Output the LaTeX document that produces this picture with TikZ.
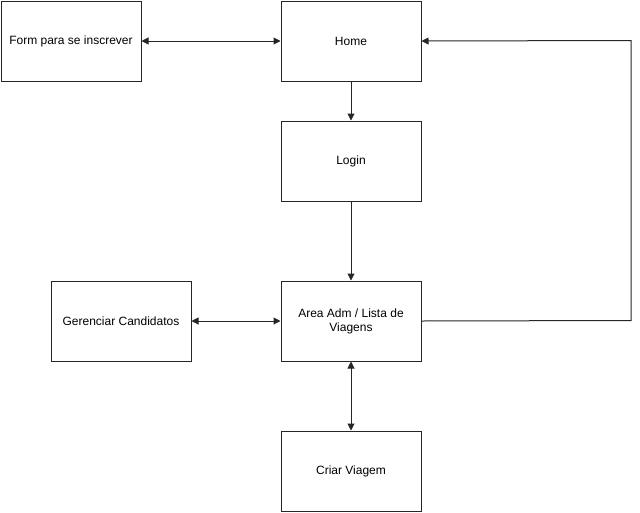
\documentclass[tikz,border=0pt]{standalone}
\usepackage{fontspec}
\setmainfont{Liberation Sans}
\usetikzlibrary{arrows.meta}
\begin{document}
\begin{tikzpicture}[x=1pt,y=-1pt,
  box/.style={draw=black!85,line width=1pt,minimum width=140pt,minimum height=80pt,inner sep=0pt,align=center,font=\fontsize{12}{14}\selectfont,anchor=north west},
  conn/.style={line width=1pt,black!85,-{Triangle[width=7pt,length=7pt]}},
  biconn/.style={line width=1pt,black!85,{Triangle[width=7pt,length=7pt]}-{Triangle[width=7pt,length=7pt]}}]
\useasboundingbox (0,0) rectangle (640,512);
\node[box] (form) at (0.5,0.5) {Form para se inscrever};
\node[box] (home) at (280.5,0.5) {Home};
\node[box] (login) at (280.5,120.5) {Login};
\node[box] (adm) at (280.5,280.5) {Area Adm / Lista de\\Viagens};
\node[box] (ger) at (50.5,280.5) {Gerenciar Candidatos};
\node[box] (criar) at (280.5,430.5) {Criar Viagem};
\coordinate (c1) at (631,320.5);
\coordinate (c2) at (631,40.5);
\draw[biconn] (form.east) -- (home.west);
\draw[conn] (home.south) -- (login.north);
\draw[conn] (login.south) -- (adm.north);
\draw[biconn] (ger.east) -- (adm.west);
\draw[biconn] (adm.south) -- (criar.north);
\draw[conn] (adm.east) -- (c1) -- (c2) -- (home.east);
\end{tikzpicture}
\end{document}
